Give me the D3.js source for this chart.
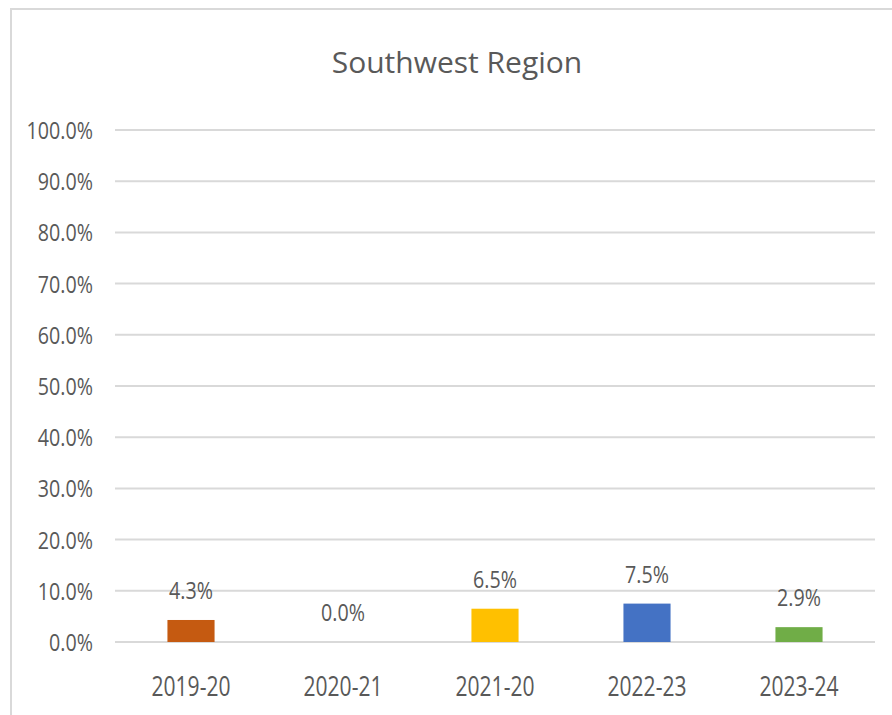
<!DOCTYPE html>
<html>
<head>
<meta charset="utf-8">
<script src="https://cdn.jsdelivr.net/npm/d3@7"></script>
<style>
  body { margin: 0; background: #fff; }
  text { font-family: "Open Sans", "Noto Sans", "Liberation Sans", sans-serif; fill: #595959; }
</style>
</head>
<body>
<div id="chart"></div>
<script>
const categories = ["2019-20", "2020-21", "2021-20", "2022-23", "2023-24"];
const values = [0.043, 0.0, 0.065, 0.075, 0.029];
const barColors = ["#C55A11", "#A5A5A5", "#FFC000", "#4472C4", "#70AD47"];
const yTicks = [0, 0.1, 0.2, 0.3, 0.4, 0.5, 0.6, 0.7, 0.8, 0.9, 1.0];
const title = "Southwest Region";

const width = 892;
const height = 715;
const plotLeft = 115;
const plotRight = 875;
const plotTop = 130;
const plotBottom = 642;
// the source text is narrow, so squeeze labels sideways
const squeeze = 0.82;
const pct = d3.format(".1%");

const svg = d3.select("#chart").append("svg")
  .attr("width", width)
  .attr("height", height);

// chart frame (only left and top edges show in the shot)
svg.append("rect")
  .attr("x", 11).attr("y", 9)
  .attr("width", width + 20).attr("height", height + 20)
  .attr("fill", "none")
  .attr("stroke", "#d9d9d9")
  .attr("stroke-width", 2);

const x = d3.scaleBand().domain(categories).range([plotLeft, plotRight]).paddingInner(0.69).paddingOuter(0.345);
const y = d3.scaleLinear().domain([0, 1]).range([plotBottom, plotTop]);

// gridlines
svg.append("g").selectAll("line")
  .data(yTicks)
  .enter().append("line")
  .attr("x1", plotLeft).attr("x2", plotRight)
  .attr("y1", d => y(d)).attr("y2", d => y(d))
  .attr("stroke", "#d9d9d9")
  .attr("stroke-width", 2);

const yaxis = d3.axisLeft(y).tickValues(yTicks).tickFormat(pct).tickSize(0);
const gy = svg.append("g").attr("transform", "translate(" + plotLeft + ",0)").call(yaxis);
gy.select(".domain").remove();
gy.selectAll("text")
  .style("font-size", "24px")
  .attr("fill", "#595959")
  .attr("x", -22 / squeeze)
  .attr("dy", "0.35em")
  .attr("transform", "scale(" + squeeze + ",1)");

const xaxis = d3.axisBottom(x).tickSize(0);
const gx = svg.append("g").attr("transform", "translate(0," + plotBottom + ")").call(xaxis);
gx.select(".domain").remove();
gx.selectAll("text")
  .style("font-size", "27px")
  .attr("fill", "#595959")
  .attr("y", 44)
  .attr("dy", "0.36em")
  .attr("transform", "scale(0.78,1)");

svg.selectAll("rect.bar")
  .data(values)
  .enter().append("rect")
  .attr("class", "bar")
  .attr("x", (d, i) => x(categories[i]))
  .attr("y", d => y(d))
  .attr("width", x.bandwidth())
  .attr("height", d => plotBottom - y(d))
  .attr("fill", (d, i) => barColors[i]);

svg.selectAll("text.lbl")
  .data(values)
  .enter().append("text")
  .attr("class", "lbl")
  .attr("text-anchor", "middle")
  .attr("transform", (d, i) => "translate(" + (x(categories[i]) + x.bandwidth() / 2) + "," + (y(d) - 21) + ") scale(" + squeeze + ",1)")
  .style("font-size", "24px")
  .text(d => pct(d));

svg.append("text")
  .attr("x", 457)
  .attr("y", 73)
  .attr("text-anchor", "middle")
  .style("font-size", "30px")
  .text(title);
</script>
</body>
</html>
